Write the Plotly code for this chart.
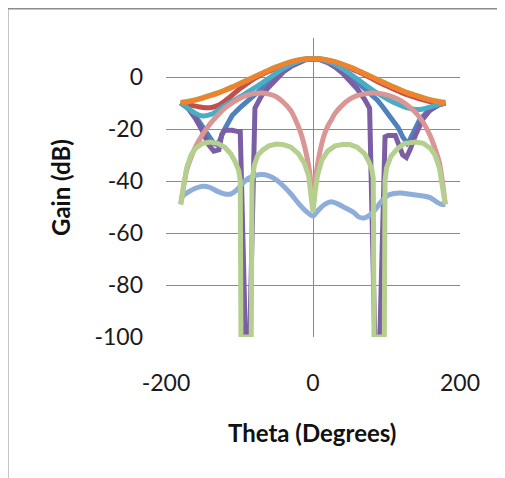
import plotly.graph_objects as go

# ---------------- data ----------------
theta_blue = [-180, -170, -160, -150, -140, -135, -131, -127, -122, -116, -110, -100, -90, -80, -70, -60, -50, -40, -30, -20, -10, 0,
              10, 20, 30, 40, 50, 60, 70, 80, 88, 95, 102, 110, 116, 122, 128, 132, 138, 145, 155, 165, 172, 180]
gain_blue = [-10, -12, -15, -19, -23, -25.5, -26, -24.5, -21, -17.5, -14.8, -12, -9.5, -7, -4.5, -2, 0.5, 2.8, 4.6, 6, 6.8, 7,
             6.8, 6, 4.6, 2.8, 0.5, -2, -4.5, -7, -9, -11.5, -14, -17, -19.5, -23, -25.5, -24, -20, -16.5, -13.5, -11.5, -10.6, -10]

theta_red = [-180, -170, -160, -150, -140, -130, -120, -110, -100, -90, -80, -70, -60, -50, -40, -30, -20, -10, 0,
             10, 20, 30, 40, 50, 60, 70, 80, 90, 100, 110, 120, 130, 140, 150, 160, 170, 180]
gain_red = [-10, -10.6, -11.2, -11.7, -11.8, -11, -9.2, -7, -4.6, -2.6, -0.6, 0.9, 2.2, 3.5, 4.6, 5.6, 6.3, 6.8, 7,
            6.8, 6.3, 5.6, 4.6, 3.5, 2.2, 0.9, -0.6, -2.1, -3.4, -4.7, -5.9, -7.0, -7.9, -8.8, -9.5, -10.1, -10]

theta_green = [-180, -170, -160, -150, -140, -130, -120, -110, -100, -90, -80, -70, -60, -50, -40, -30, -20, -10, 0,
               10, 20, 30, 40, 50, 60, 70, 80, 90, 100, 110, 120, 130, 140, 150, 160, 170, 180]
gain_green = [-9.8, -9.3, -8.7, -7.9, -7.0, -6.1, -5.0, -3.8, -2.5, -1.2, 0.1, 1.4, 2.7, 3.9, 5.0, 5.9, 6.6, 7.0, 7.1,
              7.0, 6.6, 5.9, 5.0, 3.9, 2.7, 1.4, 0.1, -1.2, -2.5, -3.8, -5.0, -6.1, -7.0, -7.9, -8.7, -9.3, -9.8]

theta_purple = [-180, -170, -160, -150, -142, -135, -128, -124, -120, -110, -102, -99, -92, -86, -79, -75, -70, -60, -50, -40, -30, -20, -10, 0,
                10, 20, 30, 40, 50, 60, 70, 77, 84, 91, 98, 102, 112, 116, 122, 127, 132, 140, 150, 160, 170, 180]
gain_purple = [-10, -12, -16, -21, -26, -28.5, -28, -22, -20.5, -20.5, -21, -21, -100, -100, -12, -9.5, -7.2, -3.8, -0.8, 2, 4, 5.5, 6.6, 7,
               6.6, 5.5, 3.8, 1.5, -1.2, -4.5, -8.5, -12, -100, -100, -23, -22.5, -22.5, -26, -30, -31, -28, -22, -16, -12.5, -10.8, -10]

theta_aqua = [-180, -170, -160, -150, -140, -130, -120, -110, -100, -90, -80, -70, -60, -50, -40, -30, -20, -10, 0,
              10, 20, 30, 40, 50, 60, 70, 80, 90, 100, 110, 120, 130, 140, 150, 160, 170, 180]
gain_aqua = [-10, -12, -14, -15, -14.5, -13, -11, -9.3, -7.8, -6, -4.3, -2.4, -0.5, 1.5, 3.3, 4.8, 6, 6.8, 7,
             6.8, 6, 4.8, 3.2, 1.3, -0.7, -2.8, -4.8, -6.6, -8.3, -9.8, -11, -12, -12.5, -12.3, -11.5, -10.6, -10]

theta_orange = [-180, -170, -160, -150, -140, -130, -120, -110, -100, -90, -80, -70, -60, -50, -40, -30, -20, -10, 0,
                10, 20, 30, 40, 50, 60, 70, 80, 90, 100, 110, 120, 130, 140, 150, 160, 170, 180]
gain_orange = [-10, -9.5, -8.9, -8.1, -7.2, -6.3, -5.2, -4.0, -2.7, -1.4, 0.0, 1.3, 2.6, 3.8, 4.9, 5.8, 6.5, 6.9, 7.0,
               6.9, 6.5, 5.8, 4.9, 3.8, 2.6, 1.3, 0.0, -1.4, -2.7, -4.0, -5.2, -6.3, -7.2, -8.1, -8.9, -9.5, -10]

theta_lblue = [-180, -176, -170, -160, -150, -140, -130, -120, -112, -104, -96, -88, -80, -70, -60, -50, -40, -30, -20, -10, 0,
               8, 16, 25, 35, 45, 55, 62, 70, 78, 86, 94, 102, 110, 120, 130, 140, 150, 160, 168, 175, 180]
gain_lblue = [-47, -45.5, -44.3, -42.8, -42, -42.5, -44, -45, -45, -43.5, -41, -39, -38, -37.5, -38, -39.5, -42, -45, -48.5, -51.5, -53.5,
              -51, -49, -48, -49, -50.5, -52, -53.8, -54.2, -53, -50.5, -47.5, -45.5, -44.8, -44.6, -45, -45.4, -45.8, -46.5, -48, -49, -49]

theta_pink = [-180, -176, -172, -166, -160, -150, -140, -130, -120, -110, -100, -90, -80, -70, -60, -50, -40, -30, -20, -15, -10, -6, -3, 0,
              3, 6, 10, 15, 20, 25, 30, 40, 50, 60, 70, 80, 90, 100, 110, 120, 130, 140, 150, 160, 166, 172, 176, 180]
gain_pink = [-49, -42, -36, -31, -27, -22, -18, -14.8, -12, -10, -8.3, -7.1, -6.4, -6.2, -6.6, -7.6, -9.8, -13, -19, -23, -28.5, -34, -40, -50,
             -40, -34, -28, -22.5, -19, -16.5, -14, -10.8, -8.5, -7.2, -6.5, -6.2, -6.3, -6.9, -7.8, -9.2, -11.2, -13.8, -17.5, -23, -27.5, -33, -40, -49]

theta_lgreen = [-180, -176, -172, -166, -160, -150, -140, -130, -120, -112, -106, -101, -99, -98, -84, -83, -80, -75, -68, -60, -50, -40, -30, -20, -12, -6, -3, 0,
                3, 6, 12, 20, 30, 40, 50, 60, 70, 76, 80, 82, 83, 97, 98, 100, 106, 115, 125, 140, 150, 160, 166, 172, 176, 180]
gain_lgreen = [-49, -42, -35, -30, -27.5, -25.5, -25, -25.5, -27, -29.5, -32.5, -36, -40, -100, -100, -40, -34, -30, -28, -26.5, -25.8, -26, -27, -29.5, -33, -38, -44, -52,
               -44, -38, -32, -28.5, -26.5, -26, -26, -27, -29.5, -32.5, -35.5, -39, -100, -100, -40, -35, -30.5, -27.5, -25.5, -25, -25.5, -27.5, -30, -35, -42, -49]

x_ticks = [-200, 0, 200]
y_ticks = [-100, -80, -60, -40, -20, 0]

x_title = "Theta (Degrees)"
y_title = "Gain (dB)"

# ---------------- figure ----------------
series = [
    (theta_blue, gain_blue, "#4F81BD", "linear"),
    (theta_red, gain_red, "#C0504D", "spline"),
    (theta_green, gain_green, "#9BBB59", "spline"),
    (theta_purple, gain_purple, "#7B5EA3", "linear"),
    (theta_aqua, gain_aqua, "#4BACC6", "spline"),
    (theta_orange, gain_orange, "#F0822E", "spline"),
    (theta_lblue, gain_lblue, "#8FADDA", "spline"),
    (theta_pink, gain_pink, "#D99694", "spline"),
    (theta_lgreen, gain_lgreen, "#B5CF8F", "linear"),
]

fig = go.Figure()
for xs, ys, col, shape in series:
    line = dict(color=col, width=5, shape=shape)
    if shape == "spline":
        line["smoothing"] = 0.6
    fig.add_trace(go.Scatter(x=xs, y=ys, mode="lines", line=line, showlegend=False, hoverinfo="skip"))

# page offset from the default body margin
OX, OY = 8, 8
W, H = 505 - OX, 478 - OY
PL, PT, PR, PB = 166, 38, 460, 337      # plot area in page pixels
L, T = PL - OX, PT - OY
R, B = OX + W - PR, OY + H - PB
pw, ph = PR - PL, PB - PT


def px_to_paper(px, py):
    return (px - PL) / pw, (PB - py) / ph


fig.update_layout(
    width=W, height=H,
    margin=dict(l=L, r=R, t=T, b=B),
    paper_bgcolor="white", plot_bgcolor="white",
    showlegend=False,
    font=dict(family="Lato, Calibri, Arial, sans-serif", size=23, color="#1a1a1a"),
)
fig.update_xaxes(
    range=[-200, 200], tickvals=x_ticks, ticktext=[str(v) for v in x_ticks],
    showgrid=False, zeroline=True, zerolinecolor="#8a8a8a", zerolinewidth=1,
    showline=False, ticks="", ticklabelstandoff=30,
    tickfont=dict(size=23, color="#1a1a1a"),
)
fig.update_yaxes(
    range=[-100, 15], tickvals=y_ticks, ticktext=[str(v) for v in y_ticks],
    showgrid=True, gridcolor="#8a8a8a", gridwidth=1, zeroline=False,
    showline=False, ticks="", ticklabelstandoff=22,
    tickfont=dict(size=23, color="#1a1a1a"),
)

# axis titles as annotations
ax, ay = px_to_paper(312, 432)
fig.add_annotation(text="<b>%s</b>" % x_title, xref="paper", yref="paper",
                   x=ax, y=ay, showarrow=False,
                   xanchor="center", yanchor="middle", font=dict(size=24, color="#111111"))
ax, ay = px_to_paper(60, 188)
fig.add_annotation(text="<b>%s</b>" % y_title, xref="paper", yref="paper",
                   x=ax, y=ay, showarrow=False, textangle=-90,
                   xanchor="center", yanchor="middle", font=dict(size=24, color="#111111"))

# chart border (only top and left edges visible)
bx0, by1 = px_to_paper(7.5, 8.5)
bx1, by0 = px_to_paper(530, 500)
fig.add_shape(type="line", xref="paper", yref="paper", x0=bx0, x1=bx1, y0=by1, y1=by1,
              line=dict(color="#8c8c8c", width=2))
fig.add_shape(type="line", xref="paper", yref="paper", x0=bx0, x1=bx0, y0=by1, y1=by0,
              line=dict(color="#8c8c8c", width=2))

fig.write_html("out.html")
